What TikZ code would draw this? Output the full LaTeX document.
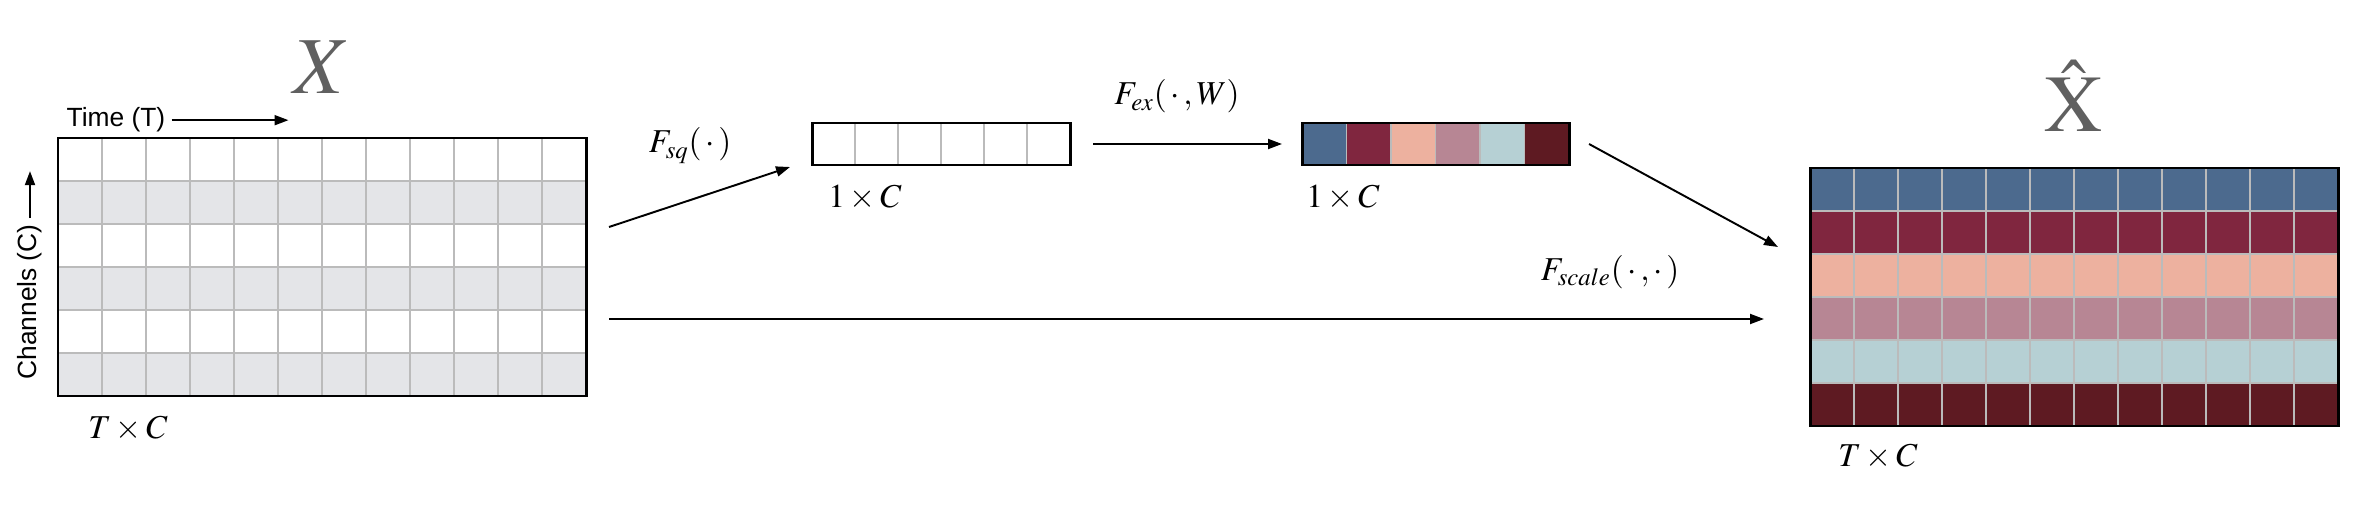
\documentclass[tikz,border=0pt]{standalone}
\usepackage{mathptmx}
\usepackage[no-math]{fontspec}
\newfontfamily\helv{Liberation Sans}
\usetikzlibrary{positioning,calc,arrows.meta}
\definecolor{cBlue}{HTML}{4C6A8E}
\definecolor{cWine}{HTML}{80263F}
\definecolor{cPeach}{HTML}{EDB19F}
\definecolor{cMauve}{HTML}{B78694}
\definecolor{cIce}{HTML}{B6D0D4}
\definecolor{cPlum}{HTML}{5E1A22}
\definecolor{cRow}{HTML}{E4E5E8}
\definecolor{cLine}{HTML}{BBBBBB}
\definecolor{cLbl}{HTML}{606060}
\tikzset{>={Triangle[length=2.8mm,width=2mm]}}
\tikzset{
  cell/.style={draw=cLine, line width=1pt},
  box/.style={draw=black, line width=1.7pt, inner sep=0pt, outer sep=0pt},
  conn/.style={->, line width=1.1pt},
  lbl/.style={font=\fontsize{19}{19}\selectfont},
  sans/.style={font=\helv\fontsize{15}{15}\selectfont},
  big/.style={text=cLbl, font=\fontsize{46}{46}\selectfont}
}

\begin{document}
\begin{tikzpicture}[x=0.2mm,y=-0.2mm]
\useasboundingbox (0,0) rectangle (2376,506);
\foreach \r/\fc in {0/white,1/cRow,2/white,3/cRow,4/white,5/cRow}
\foreach \c in {0,...,11}
\draw[cell, fill=\fc] ({58+44*\c},{138+43*\r}) rectangle ++(44,43);
\foreach \r/\fc in {0/cBlue,1/cWine,2/cPeach,3/cMauve,4/cIce,5/cPlum}
\foreach \c in {0,...,11}
\draw[cell, fill=\fc] ({1810+44*\c},{168+43*\r}) rectangle ++(44,43);
\foreach \c in {0,...,5}
\draw[cell, fill=white] ({812+43*\c},123) rectangle ++(43,42);
\foreach \c/\fc in {0/cBlue,1/cWine,2/cPeach,3/cMauve,4/cIce,5/cPlum}
\draw[cell, fill=\fc] ({1302+44.5*\c},123) rectangle ++(44.5,42);

\node[box, minimum width=105.6mm, minimum height=51.6mm] (in) at (322,267) {};
\node[box, minimum width=105.6mm, minimum height=51.6mm] (out) at (2074,297) {};
\node[box, minimum width=51.6mm, minimum height=8.4mm] (sq) at (941,144) {};
\node[box, minimum width=53.4mm, minimum height=8.4mm] (ex) at (1435.5,144) {};

\node[big, anchor=base] (xin) at (322,94) {$X$};
\node[big, anchor=base] (xout) at (2074,132) {$\hat{\mathrm{X}}$};
\node[sans, anchor=base] (time) at (116,127) {Time (T)};
\node[sans, rotate=90] (chan) at (30,302) {Channels (C)};
\node[lbl, anchor=base] (dimin) at (128,438) {$T\times C$};
\node[lbl, anchor=base] (dimout) at (1878,466) {$T\times C$};
\node[lbl, anchor=base] (dimsq) at (865,208) {$1\times C$};
\node[lbl, anchor=base] (dimex) at (1343,208) {$1\times C$};
\node[lbl, anchor=base] (fsq) at (690,153) {$F_{sq}(\,\cdot\,)$};
\node[lbl, anchor=base] (fex) at (1177,105) {$F_{ex}(\,\cdot\,,W)$};
\node[lbl, anchor=base] (fscale) at (1610,280) {$F_{scale}(\,\cdot\,,\cdot\,)$};

\coordinate (timeend) at ($(time.east)+(117,0)$);
\coordinate (chanend) at ($(chan.east)+(0,-47)$);
\draw[conn] (time.east) -- (timeend);
\draw[conn] (chan.east) -- (chanend);
\draw[conn] ($(in.east)+(23,-40)$) -- ($(sq.west)+(-22,23)$);
\draw[conn] ($(sq.east)+(23,0)$) -- ($(ex.west)+(-20,0)$);
\draw[conn] ($(ex.east)+(20,0)$) -- ($(out.west)+(-32,-50)$);
\draw[conn] ($(in.east)+(23,52)$) -- ($(out.west)+(-46,22)$);
\end{tikzpicture}
\end{document}
